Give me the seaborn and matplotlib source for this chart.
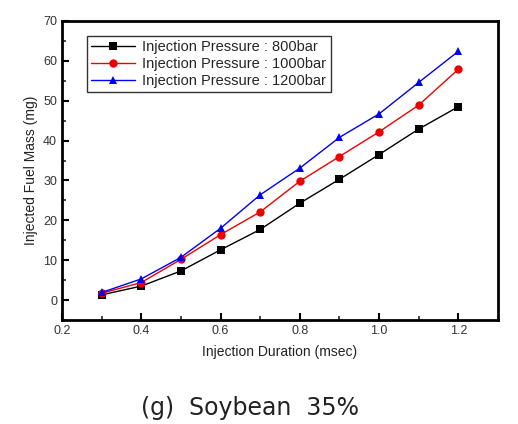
import numpy as np
import pandas as pd
import matplotlib
matplotlib.use("Agg")
import matplotlib.pyplot as plt
import seaborn as sns
from matplotlib.ticker import MultipleLocator

duration = [0.3, 0.4, 0.5, 0.6, 0.7, 0.8, 0.9, 1.0, 1.1, 1.2]
mass_800 = [1.3, 3.5, 7.3, 12.6, 17.7, 24.3, 30.3, 36.5, 42.9, 48.5]
mass_1000 = [1.7, 4.4, 10.2, 16.4, 22.1, 29.8, 36.0, 42.2, 48.9, 57.9]
mass_1200 = [1.9, 5.3, 10.7, 18.0, 26.4, 33.1, 40.8, 46.7, 54.6, 62.4]
labels = ["Injection Pressure : 800bar",
          "Injection Pressure : 1000bar",
          "Injection Pressure : 1200bar"]

df = pd.DataFrame({
    "duration": duration * 3,
    "mass": mass_800 + mass_1000 + mass_1200,
    "series": [labels[0]] * 10 + [labels[1]] * 10 + [labels[2]] * 10,
})

sns.set_style("ticks")
plt.rcParams["font.family"] = ["Liberation Sans", "DejaVu Sans"]

fig = plt.figure(figsize=(5.18, 4.24), dpi=100)
ax = fig.add_axes([0.1197, 0.2453, 0.8417, 0.7052])

palette = {labels[0]: "black", labels[1]: "#ee0000", labels[2]: "#0000ee"}
markers = {labels[0]: "s", labels[1]: "o", labels[2]: "^"}
sns.lineplot(data=df, x="duration", y="mass", hue="series", style="series",
             palette=palette, markers=markers, dashes=False, markersize=6,
             markeredgewidth=0, linewidth=1, ax=ax)

ax.set_xlim(0.2, 1.3)
ax.set_ylim(-5, 70)
ax.xaxis.set_major_locator(MultipleLocator(0.2))
ax.xaxis.set_minor_locator(MultipleLocator(0.1))
ax.yaxis.set_major_locator(MultipleLocator(10))
ax.yaxis.set_minor_locator(MultipleLocator(5))
ax.set_xticks([0.2, 0.4, 0.6, 0.8, 1.0, 1.2])
ax.set_xticklabels(["0.2", "0.4", "0.6", "0.8", "1.0", "1.2"])
ax.tick_params(which="major", direction="in", length=5, width=1.5,
               labelsize=9, colors="black", labelcolor="#333333")
ax.tick_params(which="minor", direction="in", length=3, width=1.2)
for s in ax.spines.values():
    s.set_linewidth(2)
    s.set_color("black")

ax.set_xlabel("Injection Duration (msec)", fontsize=10, color="#222222", labelpad=6)
ax.set_ylabel("Injected Fuel Mass (mg)", fontsize=10, color="#222222", labelpad=4)

leg = ax.legend(loc="upper left", bbox_to_anchor=(0.04, 0.975), fontsize=10.5,
                frameon=True, fancybox=False, edgecolor="black",
                handlelength=3, handletextpad=0.5, borderpad=0.3,
                labelspacing=0.2)
leg.get_frame().set_linewidth(1)
leg.get_frame().set_facecolor("white")

fig.text(0.483, 0.038, "(g)  Soybean  35%", ha="center", va="center",
         fontsize=17, family=["DejaVu Sans"], color="#222222")

fig.savefig("out.png", dpi=100)
